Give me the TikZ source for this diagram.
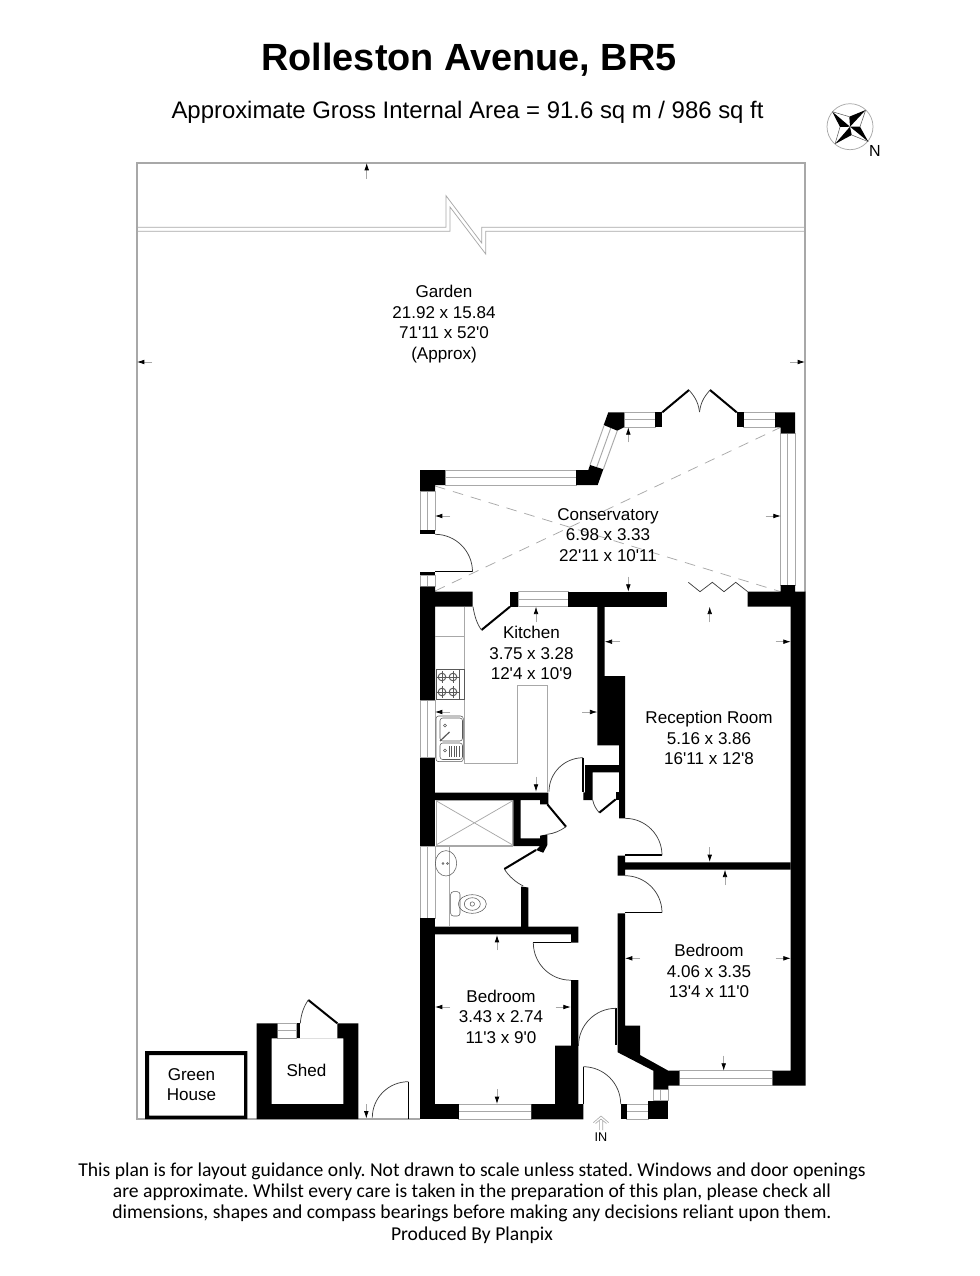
\documentclass[tikz,border=0pt]{standalone}
\usepackage{fontspec}
\setmainfont{Liberation Sans}[Ligatures=TeXOff]
\newfontfamily\notefont{Carlito}[Ligatures=TeXOff]
\usetikzlibrary{arrows.meta}
\definecolor{planline}{gray}{0.66}
\tikzset{
  wall/.style={fill=black, draw=none},
  glass/.style={draw=planline, line width=0.7pt},
  thinline/.style={draw=planline, line width=0.55pt},
  boundary/.style={draw=planline, line width=0.8pt},
  doorleaf/.style={draw=black, line width=1.5pt},
  doorarc/.style={draw=black!75, line width=0.55pt},
  fixture/.style={draw=black!65, line width=0.4pt},
  dim/.style={draw=planline, line width=0.55pt, -{Latex[black,length=5.5pt,width=3.5pt]}},
  room/.style={align=center, font=\fontsize{12.8}{15.4}\selectfont, inner sep=0pt},
}
\begin{document}
\frenchspacing
\begin{tikzpicture}[x=0.75pt,y=-0.75pt]
  \path[fill=white, use as bounding box] (0,0) rectangle (980,1276);
  % garden outline with break line
  \draw[boundary] (420,1119) -- (137,1119) -- (137,163) -- (805,163) -- (805,592);
  \draw[thinline] (137,227.3) -- (446,227.3) -- (446,195.7) -- (481.7,243) -- (481.7,227.3) -- (805,227.3);
  \draw[thinline] (137,231.3) -- (450,231.3) -- (450,207) -- (485.7,254) -- (485.7,231.3) -- (805,231.3);
  % conservatory diagonals
  \draw[thinline, dashed, dash pattern=on 8pt off 6pt] (435,486) -- (780.7,591.7);
  \draw[thinline, dashed, dash pattern=on 8pt off 6pt] (435,591) -- (780.7,427.3);
  % windows, horizontal
  \foreach \xa/\xb/\ya/\yb in {445/576/470/485, 624/655/412.3/427.3, 743.7/775/412.3/427.3,
      518/568/591.7/606.7, 458.7/531.3/1104/1119.3, 626.7/648.3/1104/1119.3, 679.3/772.7/1070.7/1085.7,
      277.3/296.7/1023.3/1038.3}{
    \draw[glass] (\xa,\ya) rectangle (\xb,\yb);
    \draw[glass] (\xa,{(\ya+\yb)/2}) -- (\xb,{(\ya+\yb)/2});
  }
  % windows, vertical
  \foreach \xa/\xb/\ya/\yb in {780.7/795/433.3/585, 420/435/491/530, 420/435/575.3/586.7,
      420/435/700/757.7, 420/435/846/918.3, 653.3/668.3/1089.3/1100.7}{
    \draw[glass] (\xa,\ya) rectangle (\xb,\yb);
    \draw[glass] ({(\xa+\xb)/2},\ya) -- ({(\xa+\xb)/2},\yb);
  }
  \draw[glass] (590,465) -- (604,425.7) (603.3,469.3) -- (617.3,430.7) (596.7,467.2) -- (610.7,428.2);
  % conservatory walls
  \fill[wall] (420,470) -- (445,470) -- (445,485) -- (435,485) -- (435,491) -- (420,491) -- cycle;
  \fill[wall] (576,470) -- (588.3,470) -- (590,465) -- (603.3,469.3) -- (597.7,485) -- (576,485) -- cycle;
  \fill[wall] (608.3,412.3) -- (624,412.3) -- (624,427.3) -- (617.3,430.7) -- (603.7,425) -- cycle;
  \fill[wall] (655,412.3) rectangle (662.3,427.3);
  \fill[wall] (736.7,412.3) rectangle (743.7,427.3);
  \fill[wall] (775,412.3) -- (795,412.3) -- (795,433.3) -- (780.7,433.3) -- (780.7,427.3) -- (775,427.3) -- cycle;
  \fill[wall] (420,530) rectangle (435,534.3);
  \fill[wall] (420,571.7) rectangle (435,575.3);
  % main walls
  \fill[wall] (420,586.7) -- (435,586.7) -- (435,591.7) -- (472.7,591.7) -- (472.7,606.7) -- (435,606.7) -- (435,700) -- (420,700) -- cycle;
  \fill[wall] (510,591.7) rectangle (518,606.7);
  \fill[wall] (568,591.7) rectangle (667.3,606.7);
  \fill[wall] (780.7,585) -- (795,585) -- (795,591.7) -- (805.7,591.7) -- (805.7,1085.7) -- (772.7,1085.7) -- (772.7,1070.7) -- (790.7,1070.7) -- (790.7,606.7) -- (747.7,606.7) -- (747.7,591.7) -- (780.7,591.7) -- cycle;
  \fill[wall] (420,757.7) rectangle (435,846);
  \fill[wall] (420,918.3) rectangle (435,1104);
  \fill[wall] (420,1104) rectangle (458.7,1119.3);
  \fill[wall] (531.3,1119.3) -- (531.3,1104) -- (555,1104) -- (555,1045.7) -- (571,1045.7) -- (571,980) -- (578.3,980) -- (578.3,1104) -- (583.3,1104) -- (583.3,1119.3) -- cycle;
  % kitchen, hall and cupboard walls
  \fill[wall] (597.3,606.7) -- (604.7,606.7) -- (604.7,676) -- (625,676) -- (625,818.3) -- (619,818.3) -- (619,772.3) -- (592.7,772.3) -- (592.7,800) -- (583.3,800) -- (583.3,792.3) -- (585,792.3) -- (585,765) -- (619,765) -- (619,745.3) -- (597.3,745.3) -- cycle;
  \fill[wall] (615.7,792.3) rectangle (619,800);
  \fill[wall] (435,792.7) -- (548.3,792.7) -- (548.3,804.3) -- (540,804.3) -- (540,800) -- (520.7,800) -- (520.7,838.3) -- (540,838.3) -- (540,835.7) -- (547.3,834.3) -- (547.3,845) -- (543.3,852.7) -- (536,850) -- (540,846) -- (513.3,846) -- (513.3,800) -- (435,800) -- cycle;
  \fill[wall] (521,886.5) -- (528.3,887.5) -- (528.3,927) -- (521,927) -- cycle;
  \fill[wall] (435,926.7) -- (578.3,926.7) -- (578.3,942.7) -- (571,942.7) -- (571,934.3) -- (435,934.3) -- cycle;
  % bedroom walls
  \fill[wall] (617.7,855.7) -- (625,855.7) -- (625,862.3) -- (790.7,862.3) -- (790.7,869.7) -- (625,869.7) -- (625,875.7) -- (617.7,875.7) -- cycle;
  \fill[wall] (617.7,913.3) -- (625,913.3) -- (625,1025.7) -- (640,1025.7) -- (640,1055) -- (668.3,1070.7) -- (679.3,1070.7) -- (679.3,1085.7) -- (668.3,1085.7) -- (668.3,1089.3) -- (653.3,1089.3) -- (653.3,1070.7) -- (617.7,1052.3) -- cycle;
  \fill[wall] (648.3,1100.7) rectangle (668.3,1119.3);
  \fill[wall] (620.7,1104) rectangle (626.7,1119.3);
  % shed and green house
  \fill[wall, even odd rule] (256.7,1023.3) -- (277.3,1023.3) -- (277.3,1038.3) -- (337.3,1038.3) -- (337.3,1023.3) -- (358.3,1023.3) -- (358.3,1119) -- (256.7,1119) -- cycle
     (271.7,1038.3) rectangle (343.3,1104);
  \fill[wall] (296.7,1023.3) rectangle (300.3,1038.3);
  \fill[wall, even odd rule] (145,1051) rectangle (247.3,1119) (149,1055) rectangle (244,1115.7);
  % door leaves and swings
  \foreach \xa/\ya/\xb/\yb in {662.3/412.3/689/390, 736.7/412.3/710/390, 510/606.7/481.5/630,
      547.3/804.3/566/826.7, 536/850/504.3/869, 615.7/799.3/599.3/812.7, 337.3/1023.3/308.3/1000}{
    \draw[doorleaf] (\xa,\ya) -- (\xb,\yb);
  }
  \foreach \xa/\ya/\xb/\yb in {435/571.7/472.7/571.7, 582.8/757.7/582.8/792.3, 625/855/662.3/855,
      625/912.7/662.3/912.7, 533.3/942.7/571/942.7, 616/1008.3/616/1045, 583.3/1066.7/583.3/1104,
      408.3/1081.7/408.3/1119}{
    \draw[doorleaf, line width=1.1pt] (\xa,\ya) -- (\xb,\yb);
  }
  % y runs downwards here, so arc angles turn the other way
  \draw[doorarc] (435,534.3) arc[start angle=-90, end angle=0, radius=37.5];
  \draw[doorarc] (473,606.7) .. controls (474.5,616) and (477,624) .. (481.5,630);
  \draw[doorarc] (582.8,757.7) .. controls (564,758) and (549,773) .. (549,791.7);
  \draw[doorarc] (566,826.7) .. controls (560,831) and (554,833.5) .. (547.3,834.3);
  \draw[doorarc] (504.3,869) .. controls (509,876.5) and (516,882.5) .. (523.3,886);
  \draw[doorarc] (599.3,812.7) .. controls (596,809) and (593.7,805) .. (592.7,800);
  \draw[doorarc] (625,818.3) arc[start angle=-90, end angle=0, radius=37];
  \draw[doorarc] (625,875.7) arc[start angle=-90, end angle=0, radius=37];
  \draw[doorarc] (533.3,942.7) arc[start angle=180, end angle=90, radius=37.5];
  \draw[doorarc] (616,1008.3) arc[start angle=-90, end angle=-180, radius=37.5];
  \draw[doorarc] (583.3,1066.7) arc[start angle=-90, end angle=0, radius=37.4];
  \draw[doorarc] (408.3,1081.7) arc[start angle=-90, end angle=-180, radius=36];
  \draw[doorarc] (300.3,1023.3) .. controls (301,1014) and (304,1006) .. (308.3,1000);
  \draw[doorarc] (689,390) .. controls (693,395) and (698,400) .. (699.5,412);
  \draw[doorarc] (710,390) .. controls (706,395) and (701,400) .. (699.5,412);
  % folding door
  \draw[doorarc] (688.3,582.3) -- (700,591.7) -- (712.3,582.3) -- (724,591.7) -- (735.7,582.3) -- (747.7,591.7);
  % kitchen units
  \draw[thinline] (464.3,606.7) -- (464.3,763.3) -- (517.7,763.3) -- (517.7,685.7) -- (547.7,685.7) -- (547.7,792);
  \draw[thinline] (435,636.7) -- (464.3,636.7);
  \draw[fixture] (436,669.3) rectangle (464.3,699.3);
  \foreach \bx/\by in {442/677, 453/677, 442/692, 453/692}{
    \draw[fixture, line width=0.7pt] (\bx,\by) circle[radius=3.8];
    \draw[fixture] (\bx-6,\by) -- (\bx+6,\by) (\bx,\by-6) -- (\bx,\by+6);
  }
  \draw[fixture] (459,670) -- (459,699);
  \draw[fixture, rounded corners=2pt] (436,716) rectangle (463.3,761.7);
  \draw[fixture, rounded corners=2pt] (440,718) rectangle (462.5,741);
  \draw[fixture, rounded corners=2pt] (440,743) rectangle (462.5,759.5);
  \draw[fixture] (445,725.5) circle[radius=1.6] (445,750.5) circle[radius=1.6];
  \draw[fixture, line width=0.9pt] (440,741) -- (449.5,732);
  \foreach \sx in {449,451.5,454,456.5,459}{
    \draw[fixture] (\sx,746) -- (\sx,757);
  }
  % bathroom fittings
  \draw[thinline] (436,800.7) rectangle (512.7,845);
  \draw[thinline] (436,800.7) -- (512.7,845) (436,845) -- (512.7,800.7);
  \draw[thinline] (435,846) -- (513.3,846) (449.3,846) -- (449.3,926.7);
  \draw[fixture] (446,863.3) ellipse[x radius=10.7, y radius=12.7];
  \draw[fixture] (443,863.5) circle[radius=0.9] (447.5,863.5) circle[radius=0.9];
  \draw[fixture, rounded corners=2pt] (450.7,891.7) rectangle (460,916);
  \draw[fixture] (472.3,904) ellipse[x radius=14, y radius=9.3];
  \draw[fixture] (472.3,904) ellipse[x radius=8, y radius=6.3];
  \draw[fixture] (472.3,904) circle[radius=2.2];
  % dimension arrows
  \foreach \xa/\ya/\xb/\yb in {366.7/179/366.7/163, 152/362/137/362, 790/362/805/362,
      628.3/442.3/628.3/427.3, 450/516/435/516, 765.7/516/780.7/516, 628.3/576.7/628.3/591.7,
      709.7/622.3/709.7/606.7, 620/641.7/604.7/641.7, 775.7/641.7/790.7/641.7, 709.7/847/709.7/862,
      536/622.3/536/606.7, 450/712/435/712, 582.3/712/597.3/712, 536/776.7/536/791.7,
      725/885/725/869.7, 640/958.3/625/958.3, 775.7/958.3/790.7/958.3, 723.7/1055.7/723.7/1070.7,
      497/950/497/935, 450/1007/435/1007, 555.7/1007/570.7/1007, 497/1089/497/1104,
      366.3/1104/366.3/1118.5}{
    \draw[dim] (\xa,\ya) -- (\xb,\yb);
  }
  % way in
  \draw[thinline, line width=0.45pt] (593.3,1122.7) -- (601,1116) -- (608.7,1122.7) (595.5,1123.5) -- (601,1119) -- (606.5,1123.5) (599.3,1120.5) -- (599.3,1130) (602.7,1120.5) -- (602.7,1130);
  \node[room, font=\fontsize{9.5}{11}\selectfont] (inlabel) at (601,1137) {IN};
  % compass
  \draw[thinline] (850,126.7) circle[radius=23];
  \coordinate (mid) at (850,126.7);
  \foreach \tipx/\tipy/\sidex/\sidey/\otherx/\othery in {832.3/111.7/840/127/849.3/116.7, 865.7/110/849.3/116.7/860/126.7,
      868.3/141.7/860/126.7/851.7/135, 835/144/851.7/135/840/127}{
    \fill[wall] (mid) -- (\tipx,\tipy) -- (\sidex,\sidey) -- cycle;
    \draw[fixture] (\tipx,\tipy) -- (\otherx,\othery);
  }
  % labels
  \node[room, font=\bfseries\fontsize{28.4}{30}\selectfont] (title) at (469,59.5) {Rolleston Avenue, BR5};
  \node[room, font=\fontsize{17.93}{20}\selectfont] (area) at (467.5,112) {Approximate Gross Internal Area = 91.6 sq m / 986 sq ft};
  \node[room, font=\fontsize{12}{15}\selectfont] (north) at (875,151) {N};
  \node[room] (garden) at (444,324) {Garden\\21.92 x 15.84\\71'11 x 52'0\\(Approx)};
  \node[room] (conservatory) at (608,535) {Conservatory\\6.98 x 3.33\\22'11 x 10'11};
  \node[room] (kitchen) at (531.5,653) {Kitchen\\3.75 x 3.28\\12'4 x 10'9};
  \node[room] (reception) at (709,738) {Reception Room\\5.16 x 3.86\\16'11 x 12'8};
  \node[room] (bedroomright) at (709,971) {Bedroom\\4.06 x 3.35\\13'4 x 11'0};
  \node[room] (bedroomleft) at (501,1016.5) {Bedroom\\3.43 x 2.74\\11'3 x 9'0};
  \node[room] (shed) at (306.5,1070.5) {Shed};
  \node[room] (greenhouse) at (191.5,1084.5) {Green\\House};
  \node[room, font=\notefont\fontsize{14.72}{16}\selectfont] (note) at (472,1203) {This plan is for layout guidance only. Not drawn to scale unless stated. Windows and door openings\\are approximate. Whilst every care is taken in the preparation of this plan, please check all\\dimensions, shapes and compass bearings before making any decisions reliant upon them.\\Produced By Planpix};
\end{tikzpicture}
\end{document}
